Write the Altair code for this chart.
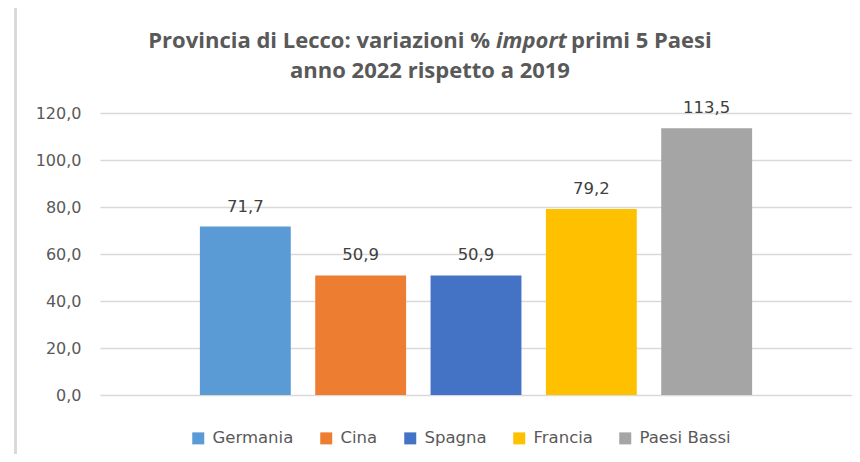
import altair as alt
import pandas as pd

paesi = ["Germania", "Cina", "Spagna", "Francia", "Paesi Bassi"]
valori = [71.7, 50.9, 50.9, 79.2, 113.5]
colori = ["#5B9BD5", "#ED7D31", "#4472C4", "#FFC000", "#A5A5A5"]
y_ticks = [0, 20, 40, 60, 80, 100, 120]
titolo_a = "Provincia di Lecco: variazioni %"
titolo_b = "import"
titolo_c = "primi 5 Paesi"
titolo_2 = "anno 2022 rispetto a 2019"

df = pd.DataFrame({"Paese": paesi, "Valore": valori})
one = pd.DataFrame({"k": [0]})

FONT = "DejaVu Sans"
TFONT = "Open Sans"
TSIZE = 22
TCOL = "#595959"

x_enc = alt.X("Paese:N", sort=paesi, axis=None,
              scale=alt.Scale(paddingInner=0.212, paddingOuter=0.866))
y_enc = alt.Y("Valore:Q",
              scale=alt.Scale(domain=[0, 120], nice=False, zero=True),
              axis=alt.Axis(values=y_ticks, title=None, domain=False, ticks=False, tickSize=0,
                            labelPadding=19, labelFont=FONT, labelFontSize=16,
                            labelColor="#595959", gridColor="#D9D9D9", gridWidth=1.6,
                            labelExpr="replace(format(datum.value, '.1f'), '.', ',')"))

bars = alt.Chart(df).mark_bar().encode(
    x=x_enc,
    y=y_enc,
    color=alt.Color("Paese:N", sort=paesi,
                    scale=alt.Scale(domain=paesi, range=colori),
                    legend=alt.Legend(title=None, orient="none", direction="horizontal",
                                      columns=5, legendX=90, legendY=317, padding=0,
                                      symbolType="square", symbolSize=144, symbolStrokeWidth=0,
                                      labelFont=FONT, labelFontSize=16.5, labelColor="#595959",
                                      labelOffset=6, columnPadding=24)),
)

labels = alt.Chart(df).transform_calculate(
    lab="replace(format(datum.Valore, '.1f'), '.', ',')"
).mark_text(font=FONT, fontSize=16.5, color="#404040", baseline="alphabetic", dy=-15).encode(
    x=x_enc,
    y=alt.Y("Valore:Q"),
    text="lab:N",
)

left_border = alt.Chart(one).mark_rule(color="#D9D9D9", strokeWidth=3).encode(
    x=alt.value(-84.5), y=alt.value(-105.5), y2=alt.value(349)
)
top_border = alt.Chart(one).mark_rule(color="#D9D9D9", strokeWidth=1).encode(
    x=alt.value(-86), x2=alt.value(760), y=alt.value(-105.5)
)

XA = 390   # right end of first segment
SP = 6     # word space
WB = 69    # width of italic segment
t_a = alt.Chart(one).mark_text(font=TFONT, fontSize=TSIZE, fontWeight="bold", color=TCOL,
                               align="right", baseline="alphabetic", text=titolo_a).encode(
    x=alt.value(XA), y=alt.value(-65))
t_b = alt.Chart(one).mark_text(font=TFONT, fontSize=TSIZE, fontWeight="bold", fontStyle="italic",
                               color=TCOL, align="left", baseline="alphabetic", text=titolo_b).encode(
    x=alt.value(XA + SP), y=alt.value(-65))
t_c = alt.Chart(one).mark_text(font=TFONT, fontSize=TSIZE, fontWeight="bold", color=TCOL,
                               align="left", baseline="alphabetic", text=titolo_c).encode(
    x=alt.value(XA + SP + WB + SP), y=alt.value(-65))
t_2 = alt.Chart(one).mark_text(font=TFONT, fontSize=TSIZE, fontWeight="bold", color=TCOL,
                               align="center", baseline="alphabetic", text=titolo_2).encode(
    x=alt.value(330), y=alt.value(-35))

chart = alt.layer(bars, labels, left_border, top_border, t_a, t_b, t_c, t_2).properties(
    width=752, height=282,
    autosize=alt.AutoSizeParams(type="none"),
    padding={"left": 92, "top": 105, "right": 0, "bottom": 59},
).configure_view(stroke=None)

chart.save("out.html", embed_options={"renderer": "svg", "actions": False})
